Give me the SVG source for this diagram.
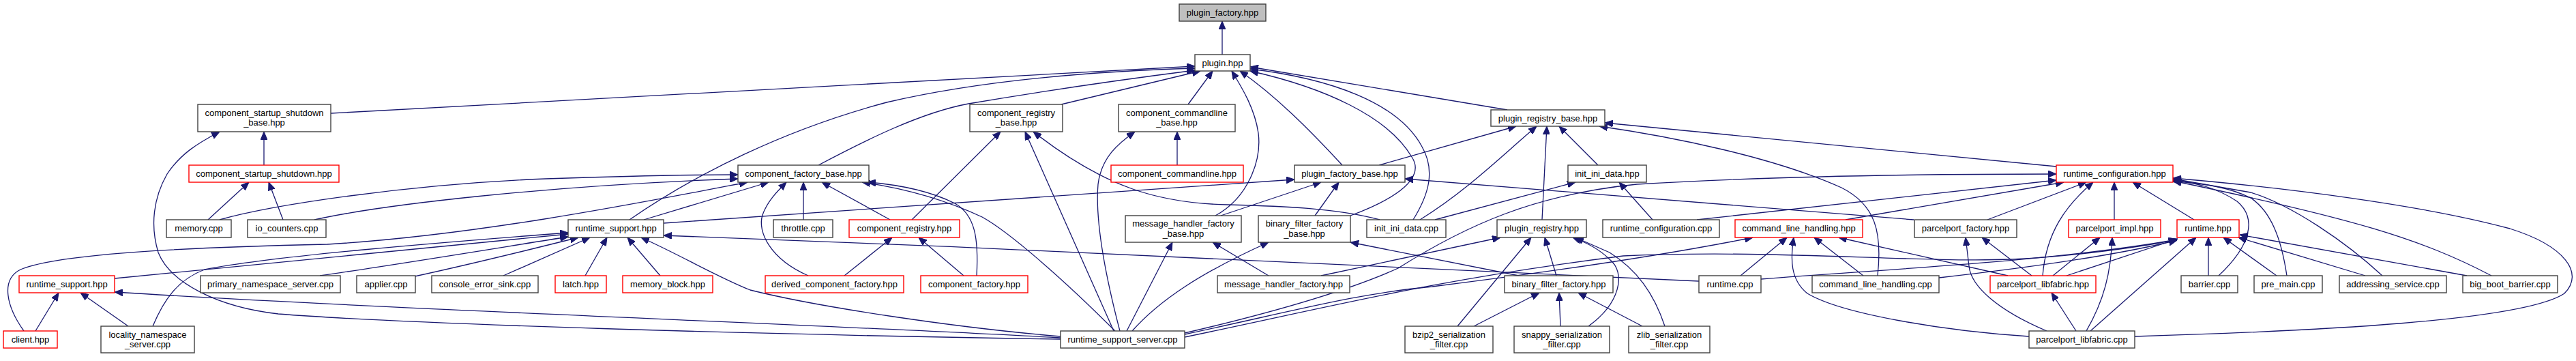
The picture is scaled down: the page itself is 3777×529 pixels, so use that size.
<svg xmlns="http://www.w3.org/2000/svg" width="3777" height="529" viewBox="0 0 3777 529">
<style>
.n rect{fill:#fff;stroke:#404040;stroke-width:1.4}
.r rect{fill:#fff;stroke:#ff0000;stroke-width:1.4}
.root rect{fill:#bfbfbf;stroke:#404040;stroke-width:1.4}
text{font-family:"Liberation Sans",Arial,sans-serif;font-size:13px;text-anchor:middle;fill:#000}
#edges path{fill:none;stroke:#191970;stroke-width:1.3;marker-end:url(#a)}
</style>
<defs>
<marker id="a" viewBox="0 0 12 10" refX="12" refY="5" markerWidth="12" markerHeight="10" markerUnits="userSpaceOnUse" orient="auto"><path d="M0,0 L12,5 L0,10 z" fill="#191970" stroke="#191970" stroke-width="1"/></marker>
</defs>
<rect width="3777" height="529" fill="#fff"/>
<g id="edges">
<path d="M1792,80 L1792,31"/>
<path d="M485,166 L1752,97"/>
<path d="M923,322 C1020,255 1150,190 1300,150 C1450,115 1620,104 1752,100"/>
<path d="M1200,242 C1270,205 1350,165 1420,152 C1520,135 1650,116 1752,103"/>
<path d="M1556,153 L1760,104"/>
<path d="M1742,153 L1778,104"/>
<path d="M1782,316 C1830,290 1850,235 1845,195 C1840,160 1822,130 1806,104"/>
<path d="M1968,242 C1920,190 1870,140 1818,104"/>
<path d="M2210,161 L1833,98"/>
<path d="M2072,322 C2095,285 2105,250 2085,215 C2050,150 1950,115 1833,101"/>
<path d="M1980,316 C2050,290 2090,260 2070,230 C2035,170 1940,128 1833,104"/>
<path d="M387,242 L387,193"/>
<path d="M305,322 L365,267"/>
<path d="M415,322 L394,267"/>
<path d="M322,322 C400,300 600,270 800,262 C950,257 1030,256 1082,256"/>
<path d="M461,322 C560,300 800,272 1082,262"/>
<path d="M35,485 C10,450 0,410 30,395 C90,370 300,362 480,358 C700,345 950,295 1096,267"/>
<path d="M944,322 L1127,267"/>
<path d="M1185,404 C1130,380 1110,340 1118,315 C1125,295 1140,280 1153,267"/>
<path d="M1178,322 L1178,267"/>
<path d="M1305,322 L1205,267"/>
<path d="M1432,404 C1435,350 1430,315 1400,298 C1360,278 1310,270 1272,267"/>
<path d="M1635,485 C1560,410 1480,340 1440,318 C1380,290 1320,275 1264,267"/>
<path d="M1337,322 L1467,193"/>
<path d="M1238,404 L1308,348"/>
<path d="M1413,404 L1347,348"/>
<path d="M1633,485 L1503,193"/>
<path d="M2023,322 C1960,305 1880,302 1800,300 C1700,298 1620,275 1515,193"/>
<path d="M1726,242 L1726,193"/>
<path d="M1642,485 C1625,420 1605,330 1610,270 C1615,230 1640,210 1664,193"/>
<path d="M1652,485 L1719,355"/>
<path d="M1660,485 C1700,440 1760,400 1860,355"/>
<path d="M1860,404 L1778,355"/>
<path d="M1937,404 L2200,348"/>
<path d="M1928,316 L1963,267"/>
<path d="M1790,316 L1937,267"/>
<path d="M2022,242 L2223,185"/>
<path d="M2082,322 C2150,280 2200,230 2253,185"/>
<path d="M2261,322 L2268,185"/>
<path d="M2343,242 L2286,185"/>
<path d="M2104,322 L2310,267"/>
<path d="M2423,322 L2374,267"/>
<path d="M2806,322 L2060,262"/>
<path d="M973,327 L1898,263"/>
<path d="M2227,404 L1980,355"/>
<path d="M2282,404 L2265,348"/>
<path d="M2137,478 L2245,348"/>
<path d="M2161,478 L2257,429"/>
<path d="M2288,478 L2286,429"/>
<path d="M2329,478 C2375,445 2385,400 2360,380 C2345,365 2325,355 2306,348"/>
<path d="M2408,478 L2314,429"/>
<path d="M2441,478 C2425,430 2400,395 2360,370 L2310,348"/>
<path d="M3015,244 L2353,180"/>
<path d="M2753,404 C2760,340 2750,300 2700,275 C2600,230 2450,200 2345,185"/>
<path d="M1737,488 C1900,450 1990,420 2050,393 C2150,330 2250,285 2400,270 C2600,258 2800,255 3015,255"/>
<path d="M2488,322 L3015,264"/>
<path d="M2706,322 L3026,267"/>
<path d="M2914,322 L3059,267"/>
<path d="M2995,404 C3000,340 3030,300 3069,267"/>
<path d="M3100,322 L3100,267"/>
<path d="M3217,322 L3127,267"/>
<path d="M3253,404 C3300,360 3310,320 3280,295 C3250,275 3220,268 3186,264"/>
<path d="M3353,404 C3345,350 3330,310 3300,290 C3270,275 3230,268 3186,266"/>
<path d="M3493,404 C3440,355 3360,300 3300,282 L3186,262"/>
<path d="M3653,404 C3550,350 3450,320 3186,265"/>
<path d="M3130,493 C3400,485 3700,470 3760,430 C3790,400 3760,360 3680,335 C3550,300 3350,275 3186,261"/>
<path d="M1737,490 C1900,455 1990,430 2100,420 C2300,395 2450,372 2570,348"/>
<path d="M1737,494 C1950,450 2100,410 2380,375 C2600,365 2800,385 2950,380 C3050,375 3150,360 3192,351"/>
<path d="M2552,404 L2620,348"/>
<path d="M2975,493 C2850,485 2700,460 2650,430 C2625,410 2625,380 2630,348"/>
<path d="M2732,404 L2660,348"/>
<path d="M2944,404 L2696,348"/>
<path d="M2491,412 C2100,390 1500,365 973,345"/>
<path d="M2582,409 C2750,395 3000,385 3192,351"/>
<path d="M2843,407 C2950,395 3100,375 3192,352"/>
<path d="M3030,404 L3193,350"/>
<path d="M3001,485 C2930,455 2890,420 2887,390 L2882,348"/>
<path d="M2979,404 L2906,348"/>
<path d="M3010,404 L3079,348"/>
<path d="M3059,485 C3085,440 3095,400 3097,348"/>
<path d="M3044,485 L3008,429"/>
<path d="M3065,485 L3220,348"/>
<path d="M3238,404 L3238,348"/>
<path d="M3338,404 L3260,348"/>
<path d="M3468,404 L3282,348"/>
<path d="M3617,404 L3284,344"/>
<path d="M168,408 L833,343"/>
<path d="M224,478 C240,440 260,410 300,395 C400,375 650,355 833,341"/>
<path d="M469,404 C600,385 750,360 833,347"/>
<path d="M608,405 C700,385 780,365 848,348"/>
<path d="M738,404 L865,348"/>
<path d="M858,404 L890,348"/>
<path d="M968,404 L920,348"/>
<path d="M1555,493 C1400,480 1200,450 1100,425 C1050,405 1000,375 940,348"/>
<path d="M1555,495 C1200,475 600,455 168,428"/>
<path d="M1555,497 C1100,490 600,475 408,460 C320,450 250,415 232,370 C220,330 225,290 245,255 C265,225 290,210 322,193"/>
<path d="M52,485 L86,429"/>
<path d="M188,478 L118,429"/>
</g>
<g id="plugin_factory_hpp" class="root"><rect x="1729" y="6" width="127" height="25"/><text x="1792.5" y="23">plugin_factory.hpp</text></g>
<g id="plugin_hpp" class="n"><rect x="1752" y="80" width="81" height="24"/><text x="1792.5" y="97">plugin.hpp</text></g>
<g id="component_startup_shutdown_base_hpp" class="n"><rect x="290" y="153" width="195" height="40"/><text x="387.5" y="169.5">component_startup_shutdown</text><text x="387.5" y="184">_base.hpp</text></g>
<g id="component_registry_base_hpp" class="n"><rect x="1422" y="153" width="136" height="40"/><text x="1490" y="169.5">component_registry</text><text x="1490" y="184">_base.hpp</text></g>
<g id="component_commandline_base_hpp" class="n"><rect x="1640" y="153" width="171" height="40"/><text x="1725.5" y="169.5">component_commandline</text><text x="1725.5" y="184">_base.hpp</text></g>
<g id="plugin_registry_base_hpp" class="n"><rect x="2186" y="161" width="167" height="24"/><text x="2269.5" y="178">plugin_registry_base.hpp</text></g>
<g id="component_startup_shutdown_hpp" class="r"><rect x="277" y="242" width="220" height="25"/><text x="387" y="259">component_startup_shutdown.hpp</text></g>
<g id="component_factory_base_hpp" class="n"><rect x="1082" y="242" width="192" height="25"/><text x="1178" y="259">component_factory_base.hpp</text></g>
<g id="component_commandline_hpp" class="r"><rect x="1629" y="242" width="194" height="25"/><text x="1726" y="259">component_commandline.hpp</text></g>
<g id="plugin_factory_base_hpp" class="n"><rect x="1898" y="242" width="162" height="25"/><text x="1979" y="259">plugin_factory_base.hpp</text></g>
<g id="init_ini_data_hpp" class="n"><rect x="2299" y="242" width="115" height="25"/><text x="2356.5" y="259">init_ini_data.hpp</text></g>
<g id="runtime_configuration_hpp" class="r"><rect x="3015" y="242" width="171" height="25"/><text x="3100.5" y="259">runtime_configuration.hpp</text></g>
<g id="memory_cpp" class="n"><rect x="244" y="322" width="95" height="26"/><text x="291.5" y="339">memory.cpp</text></g>
<g id="io_counters_cpp" class="n"><rect x="363" y="322" width="115" height="26"/><text x="420.5" y="339">io_counters.cpp</text></g>
<g id="runtime_support_hpp_1" class="n"><rect x="833" y="322" width="140" height="26"/><text x="903" y="339">runtime_support.hpp</text></g>
<g id="throttle_cpp" class="n"><rect x="1134" y="322" width="87" height="26"/><text x="1177.5" y="339">throttle.cpp</text></g>
<g id="component_registry_hpp" class="r"><rect x="1245" y="322" width="162" height="26"/><text x="1326" y="339">component_registry.hpp</text></g>
<g id="message_handler_factory_base_hpp" class="n"><rect x="1650" y="316" width="170" height="39"/><text x="1735" y="332">message_handler_factory</text><text x="1735" y="346.5">_base.hpp</text></g>
<g id="binary_filter_factory_base_hpp" class="n"><rect x="1845" y="316" width="135" height="39"/><text x="1912.5" y="332">binary_filter_factory</text><text x="1912.5" y="346.5">_base.hpp</text></g>
<g id="init_ini_data_cpp" class="n"><rect x="2004" y="322" width="116" height="26"/><text x="2062" y="339">init_ini_data.cpp</text></g>
<g id="plugin_registry_hpp" class="n"><rect x="2195" y="322" width="131" height="26"/><text x="2260.5" y="339">plugin_registry.hpp</text></g>
<g id="runtime_configuration_cpp" class="n"><rect x="2350" y="322" width="171" height="26"/><text x="2435.5" y="339">runtime_configuration.cpp</text></g>
<g id="command_line_handling_hpp" class="r"><rect x="2544" y="322" width="187" height="26"/><text x="2637.5" y="339">command_line_handling.hpp</text></g>
<g id="parcelport_factory_hpp" class="n"><rect x="2807" y="322" width="150" height="26"/><text x="2882" y="339">parcelport_factory.hpp</text></g>
<g id="parcelport_impl_hpp" class="r"><rect x="3033" y="322" width="135" height="26"/><text x="3100.5" y="339">parcelport_impl.hpp</text></g>
<g id="runtime_hpp" class="r"><rect x="3192" y="322" width="91" height="26"/><text x="3237.5" y="339">runtime.hpp</text></g>
<g id="runtime_support_hpp_2" class="r"><rect x="28" y="404" width="140" height="25"/><text x="98" y="421">runtime_support.hpp</text></g>
<g id="primary_namespace_server_cpp" class="n"><rect x="294" y="404" width="205" height="25"/><text x="396.5" y="421">primary_namespace_server.cpp</text></g>
<g id="applier_cpp" class="n"><rect x="523" y="404" width="86" height="25"/><text x="566" y="421">applier.cpp</text></g>
<g id="console_error_sink_cpp" class="n"><rect x="633" y="404" width="156" height="25"/><text x="711" y="421">console_error_sink.cpp</text></g>
<g id="latch_hpp" class="r"><rect x="814" y="404" width="75" height="25"/><text x="851.5" y="421">latch.hpp</text></g>
<g id="memory_block_hpp" class="r"><rect x="913" y="404" width="132" height="25"/><text x="979" y="421">memory_block.hpp</text></g>
<g id="derived_component_factory_hpp" class="r"><rect x="1122" y="404" width="203" height="25"/><text x="1223.5" y="421">derived_component_factory.hpp</text></g>
<g id="component_factory_hpp" class="r"><rect x="1350" y="404" width="157" height="25"/><text x="1428.5" y="421">component_factory.hpp</text></g>
<g id="message_handler_factory_hpp" class="n"><rect x="1785" y="404" width="194" height="25"/><text x="1882" y="421">message_handler_factory.hpp</text></g>
<g id="binary_filter_factory_hpp" class="n"><rect x="2206" y="404" width="159" height="25"/><text x="2285.5" y="421">binary_filter_factory.hpp</text></g>
<g id="runtime_cpp" class="n"><rect x="2491" y="404" width="91" height="25"/><text x="2536.5" y="421">runtime.cpp</text></g>
<g id="command_line_handling_cpp" class="n"><rect x="2657" y="404" width="186" height="25"/><text x="2750" y="421">command_line_handling.cpp</text></g>
<g id="parcelport_libfabric_hpp" class="r"><rect x="2918" y="404" width="155" height="25"/><text x="2995.5" y="421">parcelport_libfabric.hpp</text></g>
<g id="barrier_cpp" class="n"><rect x="3198" y="404" width="83" height="25"/><text x="3239.5" y="421">barrier.cpp</text></g>
<g id="pre_main_cpp" class="n"><rect x="3305" y="404" width="100" height="25"/><text x="3355" y="421">pre_main.cpp</text></g>
<g id="addressing_service_cpp" class="n"><rect x="3430" y="404" width="157" height="25"/><text x="3508.5" y="421">addressing_service.cpp</text></g>
<g id="big_boot_barrier_cpp" class="n"><rect x="3611" y="404" width="139" height="25"/><text x="3680.5" y="421">big_boot_barrier.cpp</text></g>
<g id="client_hpp" class="r"><rect x="5" y="485" width="79" height="25"/><text x="44.5" y="502">client.hpp</text></g>
<g id="locality_namespace_server_cpp" class="n"><rect x="148" y="478" width="137" height="39"/><text x="216.5" y="494.5">locality_namespace</text><text x="216.5" y="509">_server.cpp</text></g>
<g id="runtime_support_server_cpp" class="n"><rect x="1555" y="485" width="182" height="25"/><text x="1646" y="502">runtime_support_server.cpp</text></g>
<g id="bzip2_serialization_filter_cpp" class="n"><rect x="2060" y="478" width="129" height="39"/><text x="2124.5" y="494.5">bzip2_serialization</text><text x="2124.5" y="509">_filter.cpp</text></g>
<g id="snappy_serialization_filter_cpp" class="n"><rect x="2220" y="478" width="140" height="39"/><text x="2290" y="494.5">snappy_serialization</text><text x="2290" y="509">_filter.cpp</text></g>
<g id="zlib_serialization_filter_cpp" class="n"><rect x="2388" y="478" width="119" height="39"/><text x="2447.5" y="494.5">zlib_serialization</text><text x="2447.5" y="509">_filter.cpp</text></g>
<g id="parcelport_libfabric_cpp" class="n"><rect x="2975" y="485" width="155" height="25"/><text x="3052.5" y="502">parcelport_libfabric.cpp</text></g>
</svg>
